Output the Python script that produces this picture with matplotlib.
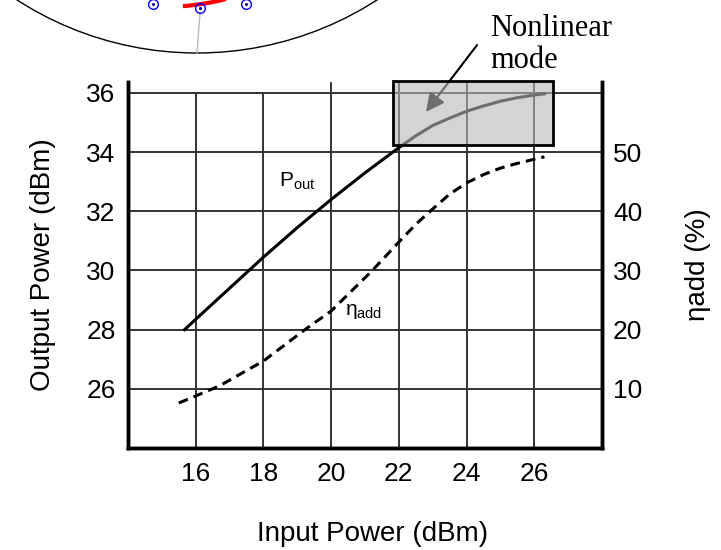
import numpy as np
import matplotlib
matplotlib.use('Agg')
import matplotlib.pyplot as plt
from matplotlib.patches import Rectangle, Circle

plt.rcParams['font.family'] = ['Liberation Sans', 'DejaVu Sans']
plt.rcParams['mathtext.fontset'] = 'custom'
plt.rcParams['mathtext.rm'] = 'Liberation Sans'
plt.rcParams['mathtext.it'] = 'Liberation Sans'

# Input power sweep (dBm) and measured curves
pin_pout = [15.67, 16, 17, 18, 19, 20, 21, 22, 22.5, 23, 23.5, 24, 24.5, 25, 25.5, 26, 26.3]
pout = [28.0, 28.35, 29.4, 30.45, 31.45, 32.4, 33.3, 34.15, 34.55, 34.9, 35.15, 35.38,
        35.56, 35.72, 35.84, 35.93, 35.97]

pin_eta = [15.5, 16.0, 16.7, 18.0, 19.25, 20.0, 21.2, 22.0, 22.5, 23.0, 23.5, 24.0,
           24.5, 25.0, 25.5, 26.0, 26.3]
eta_add = [7.6, 8.8, 10.5, 14.7, 20.1, 23.15, 29.9, 34.8, 37.8, 40.4, 42.9, 44.8,
           46.2, 47.3, 48.1, 48.8, 49.2]

x_ticks = [16, 18, 20, 22, 24, 26]
x_grid_top = [36, 36, 36.37, 36.37, 36.37, 36.37]
y_ticks = [26, 28, 30, 32, 34, 36]
eta_ticks = [10, 20, 30, 40, 50]

# nonlinear region box (input dBm, output dBm)
box_x = [21.83, 26.56]
box_y = [34.25, 36.4]

# Smith chart fragment in figure pixel coordinates
smith_center = (197, -279)
smith_radius = 332
smith_points_x = [153, 200, 246]
smith_points_y = [4, 8, 4]
trace_x = [183, 190, 200, 210, 220, 226]
trace_y = [6.2, 5.5, 4.2, 2.6, 0.5, -1.0]

W, H = 721, 550
fig = plt.figure(figsize=(W / 100, H / 100), dpi=100)

# --- Smith chart fragment on top ---
ov = fig.add_axes([0, 0, 1, 1])
ov.set_xlim(0, W)
ov.set_ylim(H, 0)
ov.axis('off')
ov.add_patch(Circle(smith_center, smith_radius, fill=False, ec='black', lw=1.0))
ov.plot([200, 197], [13, 53], color='#bbbbbb', lw=1.0)
ov.plot(trace_x, trace_y, color='red', lw=3.0, solid_capstyle='butt')
ov.plot(smith_points_x, smith_points_y, 'o', ms=7, mfc='none', mec='blue', mew=1.0)
ov.plot(smith_points_x, smith_points_y, 'o', ms=1.2, color='#000080')

# --- main chart ---
ax = fig.add_axes([128 / W, 1 - 448 / H, (602 - 128) / W, (448 - 82) / H])
ax.set_xlim(14, 28)
ax.set_ylim(24, 36.37)
ax.set_xticks(x_ticks)
ax.set_yticks(y_ticks)
ax.grid(True, axis='y', color='#333333', lw=1.4)
ax.vlines(x_ticks, 24, x_grid_top, color='#333333', lw=1.4, zorder=0.5)
ax.set_axisbelow(True)
ax.tick_params(length=0, labelsize=19)
ax.tick_params(axis='x', pad=10)
ax.tick_params(axis='y', pad=9)
ax.spines['top'].set_visible(False)
for s in ['left', 'bottom', 'right']:
    ax.spines[s].set_linewidth(2.5)

ax.plot(pin_pout, pout, color='black', lw=2.2)
ax.text(18.46, 33.0, r'P$_{\mathrm{out}}$', fontsize=15, va='center', ha='left')
ax.text(20.4, 28.6, r'$\eta_{\mathrm{add}}$', fontsize=15, va='center', ha='left')

ax.set_xlabel('Input Power (dBm)', fontsize=20)
ax.set_ylabel('Output Power (dBm)', fontsize=20)
ax.xaxis.set_label_coords(0.515, -0.20)
ax.yaxis.set_label_coords(-0.152, 0.5)

ax2 = ax.twinx()
ax2.set_ylim(5 * 24 - 120, 5 * 36.37 - 120)
ax2.set_yticks(eta_ticks)
ax2.tick_params(length=0, labelsize=19, pad=8)
ax2.spines['top'].set_visible(False)
for s in ['left', 'bottom', 'right']:
    ax2.spines[s].set_linewidth(2.5)
ax2.plot(pin_eta, eta_add, color='black', lw=2.2, linestyle=(0, (3.2, 2.0)))
ax2.set_ylabel('ηadd (%)', fontsize=20)
ax2.yaxis.set_label_coords(1.175, 0.5)

# arrow from annotation into the box (drawn under the translucent box)
ax2.annotate('', xy=(22.8, 35.36), xytext=(24.31, 37.62),
             xycoords=ax.transData, textcoords=ax.transData,
             annotation_clip=False,
             arrowprops=dict(arrowstyle='-|>', color='black', lw=1.5,
                             mutation_scale=28, shrinkA=0, shrinkB=0),
             zorder=3)
ax2.add_patch(Rectangle((box_x[0], box_y[0]), box_x[1] - box_x[0], box_y[1] - box_y[0],
                        transform=ax.transData, facecolor=(0.72, 0.72, 0.72, 0.6),
                        edgecolor='black', lw=2.0, clip_on=False, zorder=4))

fig.text(490 / W, 1 - 36 / H, 'Nonlinear', fontsize=22, family='Liberation Serif', va='baseline')
fig.text(490 / W, 1 - 68 / H, 'mode', fontsize=22, family='Liberation Serif', va='baseline')

fig.savefig('out.png', dpi=100)
